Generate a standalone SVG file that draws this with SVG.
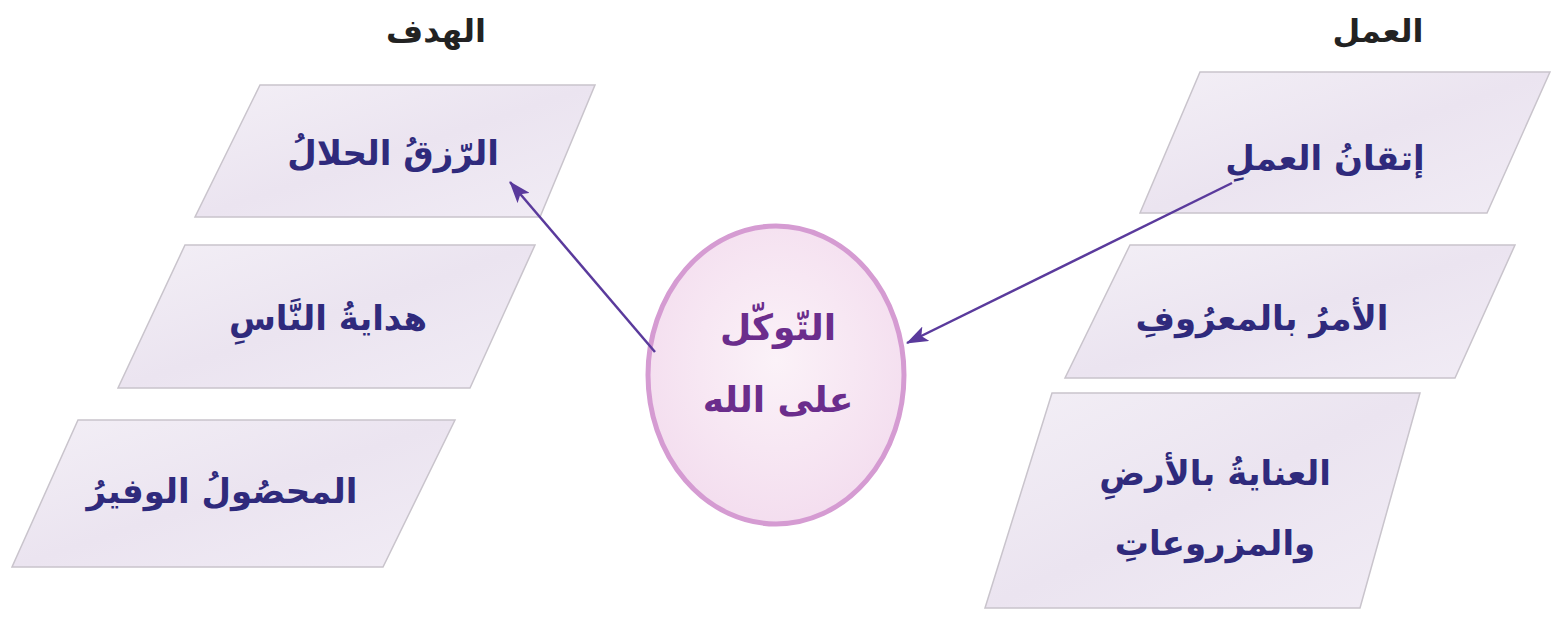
<svg xmlns="http://www.w3.org/2000/svg" width="1551" height="618" viewBox="0 0 1551 618">
<defs>
<linearGradient id="pg" x1="0" y1="0" x2="1" y2="1">
<stop offset="0" stop-color="#f3eff6"/>
<stop offset="0.5" stop-color="#ebe4f0"/>
<stop offset="1" stop-color="#f1ecf5"/>
</linearGradient>
<radialGradient id="eg" cx="0.5" cy="0.45" r="0.6">
<stop offset="0" stop-color="#fbf2f8"/>
<stop offset="1" stop-color="#f3dcee"/>
</radialGradient>
<marker id="ah" viewBox="0 0 22 16" refX="21" refY="8" markerWidth="22" markerHeight="16" orient="auto" markerUnits="userSpaceOnUse">
<path d="M0,0 L22,8 L0,16 L5,8 z" fill="#5a3a9c"/>
</marker>
</defs>
<style>
.box{fill:url(#pg);stroke:#c9c4cc;stroke-width:1.5}
.t{font-family:"DejaVu Sans",sans-serif;font-weight:bold;font-size:34px;fill:#2f2a7c;text-anchor:middle}
.h{font-family:"DejaVu Sans",sans-serif;font-weight:bold;font-size:32px;fill:#222;text-anchor:middle}
.e{font-family:"DejaVu Sans",sans-serif;font-weight:bold;font-size:36px;fill:#6b2d8c;text-anchor:middle}
.c{stroke:#5a3a9c;stroke-width:2.5;fill:none}
</style>
<rect width="1551" height="618" fill="#ffffff"/>
<text class="h" x="436" y="42" direction="rtl">الهدف</text>
<text class="h" x="1378" y="42" direction="rtl">العمل</text>
<g id="goal1">
<polygon class="box" points="260,85 595,85 540,217 195,217"/>
<text class="t" x="393" y="165" direction="rtl">الرّزقُ الحلالُ</text>
</g>
<g id="goal2">
<polygon class="box" points="185,245 535,245 470,388 118,388"/>
<text class="t" x="328" y="330" direction="rtl">هدايةُ النَّاسِ</text>
</g>
<g id="goal3">
<polygon class="box" points="78,420 455,420 383,567 12,567"/>
<text class="t" x="222" y="503" direction="rtl">المحصُولُ الوفيرُ</text>
</g>
<g id="work1">
<polygon class="box" points="1200,72 1550,72 1487,213 1140,213"/>
<text class="t" x="1325" y="170" direction="rtl">إتقانُ العملِ</text>
</g>
<g id="work2">
<polygon class="box" points="1130,245 1515,245 1455,378 1065,378"/>
<text class="t" x="1262" y="330" direction="rtl">الأمرُ بالمعرُوفِ</text>
</g>
<g id="work3">
<polygon class="box" points="1052,393 1420,393 1360,608 985,608"/>
<text class="t" x="1215" y="485" direction="rtl">العنايةُ بالأرضِ</text>
<text class="t" x="1215" y="555" direction="rtl">والمزروعاتِ</text>
</g>
<g id="center">
<ellipse cx="776" cy="375" rx="128" ry="149" fill="url(#eg)" stroke="#d59bd2" stroke-width="5"/>
<text class="e" x="778" y="340" direction="rtl">التّوكّل</text>
<text class="e" x="778" y="412" direction="rtl">على الله</text>
</g>
<g id="connectors">
<line class="c" x1="655" y1="352" x2="510" y2="182" marker-end="url(#ah)"/>
<line class="c" x1="1232" y1="183" x2="907" y2="343" marker-end="url(#ah)"/>
</g>
</svg>
